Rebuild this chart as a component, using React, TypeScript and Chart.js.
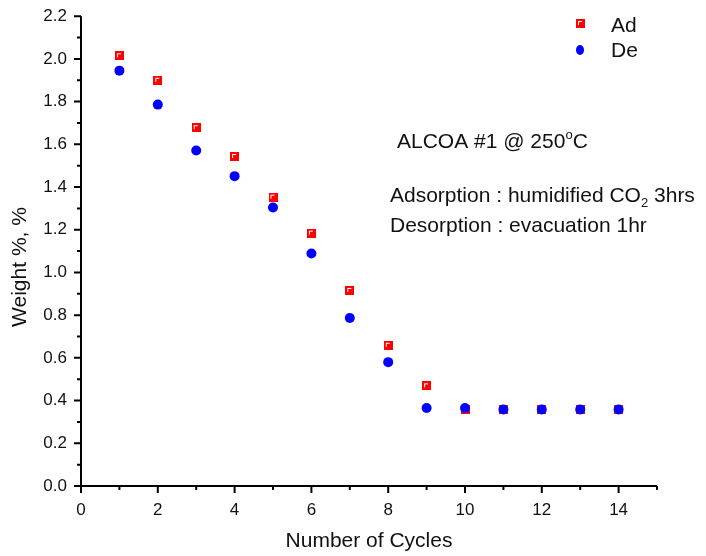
import React, { useEffect, useRef } from "react";
import { Chart, registerables } from "chart.js";

Chart.register(...registerables);

// ---- data ----
const cycles = [1, 2, 3, 4, 5, 6, 7, 8, 9, 10, 11, 12, 13, 14];
const adValues = [2.015, 1.9, 1.678, 1.543, 1.353, 1.184, 0.916, 0.659, 0.469, 0.357, 0.356, 0.356, 0.356, 0.356];
const deValues = [1.945, 1.786, 1.571, 1.451, 1.304, 1.089, 0.787, 0.58, 0.365, 0.365, 0.358, 0.358, 0.358, 0.358];
const seriesNames = ["Ad", "De"];
const xTickLabels = ["0", "2", "4", "6", "8", "10", "12", "14"];
const yTickLabels = ["0.0", "0.2", "0.4", "0.6", "0.8", "1.0", "1.2", "1.4", "1.6", "1.8", "2.0", "2.2"];
const xTitle = "Number of Cycles";
const yTitle = "Weight %, %";
const noteTitle = ["ALCOA #1 @ 250", "o", "C"];
const noteAds = ["Adsorption : humidified CO", "2", " 3hrs"];
const noteDes = "Desorption : evacuation 1hr";

const FONT = "'Liberation Sans', Arial, Helvetica, sans-serif";
const RED = "#ff0000";
const BLUE = "#0000ff";

function makeAdMarker(): HTMLCanvasElement {
  const c = document.createElement("canvas");
  c.width = 9;
  c.height = 9;
  const g = c.getContext("2d")!;
  g.fillStyle = RED;
  g.fillRect(0, 0, 9, 9);
  g.fillStyle = "#ffffff";
  g.fillRect(2, 2, 4, 1);
  g.fillRect(2, 2, 1, 4);
  return c;
}

type Part = { text: string; size: number; dy: number };

function drawRich(ctx: CanvasRenderingContext2D, x: number, y: number, parts: Part[]) {
  let cx = x;
  ctx.textAlign = "left";
  ctx.textBaseline = "alphabetic";
  for (const p of parts) {
    ctx.font = `${p.size}px ${FONT}`;
    ctx.fillText(p.text, cx, y + p.dy);
    cx += ctx.measureText(p.text).width;
  }
}

export default function App() {
  const ref = useRef<HTMLCanvasElement | null>(null);

  useEffect(() => {
    if (!ref.current) return;
    const adMarker = makeAdMarker();

    const overlay = {
      id: "overlay",
      afterDraw(chart: any) {
        const ctx: CanvasRenderingContext2D = chart.ctx;
        const { left, right, top, bottom } = chart.chartArea;
        const xs = chart.scales.x;
        const ys = chart.scales.y;
        ctx.save();
        ctx.strokeStyle = "#000";
        ctx.lineWidth = 2;
        // axis lines
        ctx.beginPath();
        ctx.moveTo(left, top);
        ctx.lineTo(left, bottom + 1);
        ctx.moveTo(left - 1, bottom);
        ctx.lineTo(right, bottom);
        ctx.stroke();
        // ticks
        ctx.beginPath();
        for (const t of xs.ticks) {
          const px = xs.getPixelForValue(t.value);
          const major = Math.round(t.value) % 2 === 0 && t.value < 15;
          ctx.moveTo(px, bottom);
          ctx.lineTo(px, bottom + (major ? 7 : 4));
        }
        for (const t of ys.ticks) {
          const py = ys.getPixelForValue(t.value);
          const major = Math.round(t.value * 10) % 2 === 0;
          ctx.moveTo(left, py);
          ctx.lineTo(left - (major ? 7 : 4), py);
        }
        ctx.stroke();

        ctx.fillStyle = "#111";
        // axis titles
        ctx.font = `21px ${FONT}`;
        ctx.textAlign = "center";
        ctx.textBaseline = "alphabetic";
        ctx.fillText(xTitle, (left + right) / 2, 547);
        ctx.save();
        ctx.translate(26, 267);
        ctx.rotate(-Math.PI / 2);
        ctx.fillText(yTitle, 0, 0);
        ctx.restore();

        // legend
        ctx.drawImage(adMarker, 576, 19);
        ctx.fillStyle = BLUE;
        ctx.beginPath();
        ctx.ellipse(580, 50, 4, 5, 0, 0, Math.PI * 2);
        ctx.fill();
        ctx.fillStyle = "#111";
        ctx.font = `21px ${FONT}`;
        ctx.textAlign = "left";
        ctx.fillText(seriesNames[0], 611, 32);
        ctx.fillText(seriesNames[1], 611, 57);

        // notes
        drawRich(ctx, 397, 148, [
          { text: noteTitle[0], size: 21, dy: 0 },
          { text: noteTitle[1], size: 13, dy: -9 },
          { text: noteTitle[2], size: 21, dy: 0 },
        ]);
        drawRich(ctx, 390, 202, [
          { text: noteAds[0], size: 21, dy: 0 },
          { text: noteAds[1], size: 13, dy: 5 },
          { text: noteAds[2], size: 21, dy: 0 },
        ]);
        drawRich(ctx, 390, 232, [{ text: noteDes, size: 21, dy: 0 }]);
        ctx.restore();
      },
    };

    const chart = new Chart(ref.current, {
      type: "scatter",
      data: {
        datasets: [
          {
            label: seriesNames[0],
            data: cycles.map((c, i) => ({ x: c, y: adValues[i] })),
            pointStyle: adMarker as any,
            pointRadius: 5,
            backgroundColor: RED,
            borderWidth: 0,
            order: 1,
          },
          {
            label: seriesNames[1],
            data: cycles.map((c, i) => ({ x: c, y: deValues[i] })),
            pointStyle: "circle",
            pointRadius: 5,
            backgroundColor: BLUE,
            borderColor: BLUE,
            borderWidth: 0,
            order: 0,
          },
        ],
      },
      options: {
        animation: false,
        responsive: false,
        devicePixelRatio: 1,
        events: [],
        layout: { padding: { top: 15, right: 49, left: 0, bottom: 0 } },
        plugins: { legend: { display: false }, tooltip: { enabled: false } },
        scales: {
          x: {
            type: "linear",
            min: 0,
            max: 15,
            grid: { display: false },
            border: { display: false },
            afterFit: (s: any) => {
              s.height = 70;
            },
            ticks: {
              stepSize: 1,
              autoSkip: false,
              maxRotation: 0,
              padding: 6,
              color: "#111",
              font: { family: FONT, size: 17 },
              callback: (v: any) => {
                const n = Math.round(Number(v));
                return n % 2 === 0 && n <= 14 ? xTickLabels[n / 2] : "";
              },
            },
          },
          y: {
            type: "linear",
            min: 0,
            max: 2.2,
            grid: { display: false },
            border: { display: false },
            afterFit: (s: any) => {
              s.width = 81;
            },
            ticks: {
              stepSize: 0.1,
              autoSkip: false,
              padding: 6,
              color: "#111",
              font: { family: FONT, size: 17 },
              callback: (v: any) => {
                const n = Math.round(Number(v) * 10);
                return n % 2 === 0 ? yTickLabels[n / 2] : "";
              },
            },
          },
        },
      },
      plugins: [overlay],
    });
    return () => chart.destroy();
  }, []);

  return (
    <div style={{ position: "absolute", left: 0, top: 0, width: 706, height: 556, background: "#fff" }}>
      <canvas ref={ref} width={706} height={556} style={{ width: 706, height: 556, display: "block" }} />
    </div>
  );
}
